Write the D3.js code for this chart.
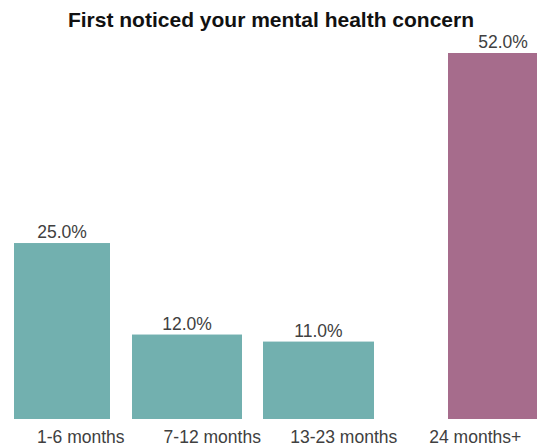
<!DOCTYPE html>
<html>
<head>
<meta charset="utf-8">
<script src="https://cdn.jsdelivr.net/npm/d3@7/dist/d3.min.js"></script>
<style>
  html, body { margin: 0; padding: 0; background: #ffffff; }
  svg { display: block; }
</style>
</head>
<body>
<svg id="chart" width="537" height="448"></svg>
<script>
// Share of respondents by when they first noticed their concern
const categories = ["1-6 months", "7-12 months", "13-23 months", "24 months+"];
const values = [25.0, 12.0, 11.0, 52.0];
const valueLabels = ["25.0%", "12.0%", "11.0%", "52.0%"];
const groups = ["short", "short", "short", "long"];

const W = 537, H = 448;
const svg = d3.select("#chart");

const fontFamily = "Liberation Sans, Arial, Helvetica, sans-serif";

// Vertical value scale
const y = d3.scaleLinear().domain([0, 52]).range([419, 53]);

// Category label positions (evenly spaced)
const xLabel = d3.scaleBand().domain(categories).range([15, 541]);

// Bar placement: the long-duration bar is set apart from the others
const xBar = d3.scaleOrdinal().domain(categories).range([14, 132, 263, 448]);
const barWidth = d3.scaleOrdinal().domain(categories).range([96, 110, 111, 110]);

const color = d3.scaleOrdinal().domain(["short", "long"]).range(["#72b0af", "#a66c8c"]);

// Title
svg.append("text")
  .attr("x", 271)
  .attr("y", 27)
  .attr("text-anchor", "middle")
  .attr("font-family", fontFamily)
  .attr("font-weight", "bold")
  .attr("font-size", 21)
  .attr("fill", "#111111")
  .text("First noticed your mental health concern");

const data = categories.map((c, i) => ({ cat: c, value: values[i], label: valueLabels[i], group: groups[i] }));

// Bars
svg.append("g")
  .selectAll("rect")
  .data(data)
  .join("rect")
  .attr("x", d => xBar(d.cat))
  .attr("y", d => y(d.value))
  .attr("width", d => barWidth(d.cat))
  .attr("height", d => y(0) - y(d.value))
  .attr("fill", d => color(d.group));

// Value labels
svg.append("g")
  .selectAll("text")
  .data(data)
  .join("text")
  .attr("x", d => xBar(d.cat) + barWidth(d.cat) / 2)
  .attr("y", d => y(d.value) - 5)
  .attr("text-anchor", "middle")
  .attr("font-family", fontFamily)
  .attr("font-size", 17.5)
  .attr("fill", "#404040")
  .text(d => d.label);

// Category axis labels
const axis = d3.axisBottom(xLabel).tickSize(0).tickPadding(0);
const gAxis = svg.append("g")
  .attr("transform", "translate(0, 431)")
  .call(axis);
gAxis.select(".domain").remove();
gAxis.selectAll("text")
  .attr("font-family", fontFamily)
  .attr("font-size", 17.5)
  .attr("fill", "#404040")
  .attr("dy", "0.71em");
</script>
</body>
</html>
